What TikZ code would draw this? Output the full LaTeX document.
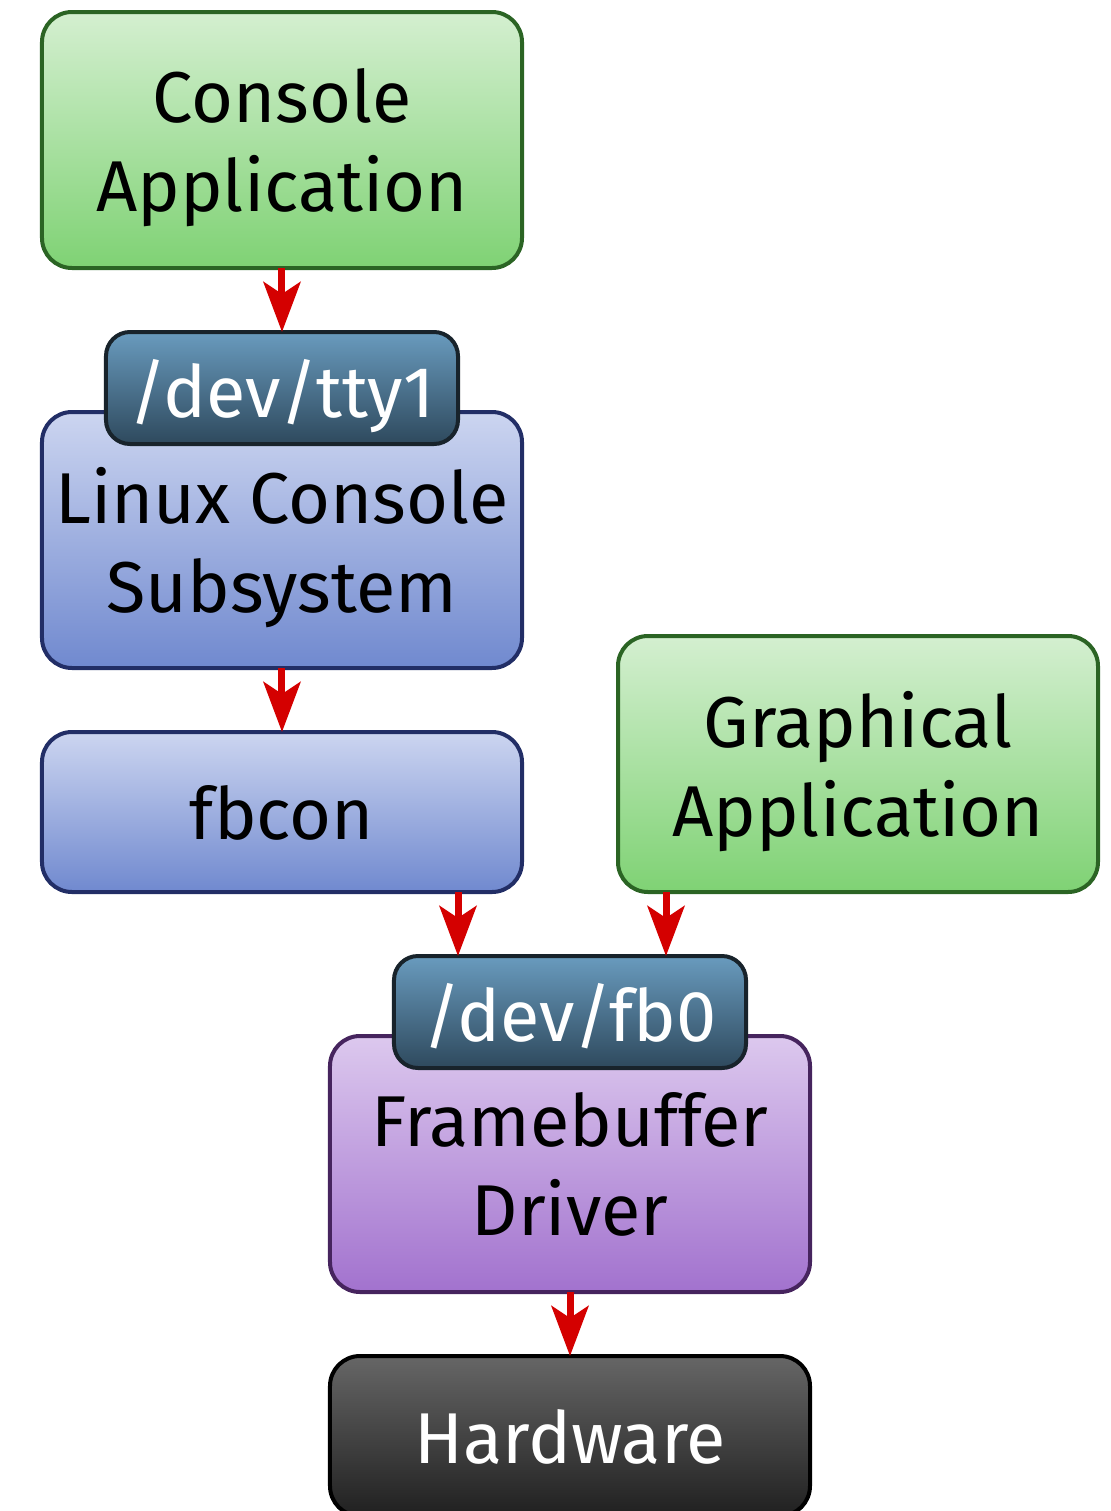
\documentclass[tikz,border=0pt]{standalone}
\usepackage{fontspec}
\setmainfont{Fira Sans}
\usetikzlibrary{arrows.meta}
\usetikzlibrary{calc}
\usetikzlibrary{positioning}
\definecolor{appTop}{HTML}{D4EFD0}
\definecolor{appBot}{HTML}{7FD274}
\definecolor{appLine}{HTML}{2B6424}
\definecolor{conTop}{HTML}{CCD5F0}
\definecolor{conBot}{HTML}{7089CF}
\definecolor{conLine}{HTML}{222E66}
\definecolor{drvTop}{HTML}{DCC8EE}
\definecolor{drvBot}{HTML}{A272CE}
\definecolor{drvLine}{HTML}{46245E}
\definecolor{devTop}{HTML}{699BBE}
\definecolor{devBot}{HTML}{2E495D}
\definecolor{devLine}{HTML}{18232B}
\definecolor{hwTop}{HTML}{666666}
\definecolor{hwBot}{HTML}{202020}
\definecolor{flowRed}{HTML}{D40000}
\tikzset{
  box/.style={
    rounded corners=15pt, line width=2pt, outer sep=0pt,
    minimum width=240pt, align=center, inner sep=0, text depth=0pt,
    font=\fontsize{36}{44.5}\selectfont
  },
  app/.style={box, minimum height=128pt, draw=appLine, top color=appTop, bottom color=appBot},
  kernel/.style={box, draw=conLine, top color=conTop, bottom color=conBot},
  driver/.style={box, minimum height=128pt, draw=drvLine, top color=drvTop, bottom color=drvBot},
  hw/.style={box, minimum height=80pt, draw=black, top color=hwTop, bottom color=hwBot, text=white},
  devnode/.style={box, rounded corners=12pt, minimum width=176pt, minimum height=56pt,
    draw=devLine, top color=devTop, bottom color=devBot, text=white},
  flow/.style={-{Stealth[length=25pt,width=18.5pt,inset=6pt]}, line width=3.5pt, draw=flowRed, fill=flowRed}
}
\begin{document}
\begin{tikzpicture}
  \useasboundingbox (-141pt,-685.5pt) rectangle (414.5pt,70pt);

  \node[app] (conapp) at (0,0) {Console\\Application};
  \node[kernel, minimum height=128pt, below=72pt of conapp] (linux) {Linux Console\\Subsystem};
  \node[kernel, minimum height=80pt, below=32pt of linux] (fbcon) {fbcon};
  \node[app, anchor=south west] (gfxapp) at ([xshift=48pt]fbcon.south east) {Graphical\\Application};
  \node[driver, below=72pt of fbcon, xshift=144pt] (fbdrv) {Framebuffer\\Driver};
  \node[hw, below=32pt of fbdrv] (hw) {Hardware};

  % device files sit on top of their boxes
  \node[devnode] (tty) at ([yshift=12pt]linux.north) {/dev/tty1};
  \node[devnode] (fb0) at ([yshift=12pt]fbdrv.north) {/dev/fb0};

  \coordinate (fbconin) at ([xshift=-56pt]fb0.north);
  \coordinate (gfxin) at ([xshift=48pt]fb0.north);

  \draw[flow] (conapp.south) -- (tty.north);
  \draw[flow] (linux.south) -- (fbcon.north);
  \draw[flow] (fbcon.south -| fbconin) -- (fbconin);
  \draw[flow] (gfxapp.south -| gfxin) -- (gfxin);
  \draw[flow] (fbdrv.south) -- (hw.north);
\end{tikzpicture}
\end{document}
